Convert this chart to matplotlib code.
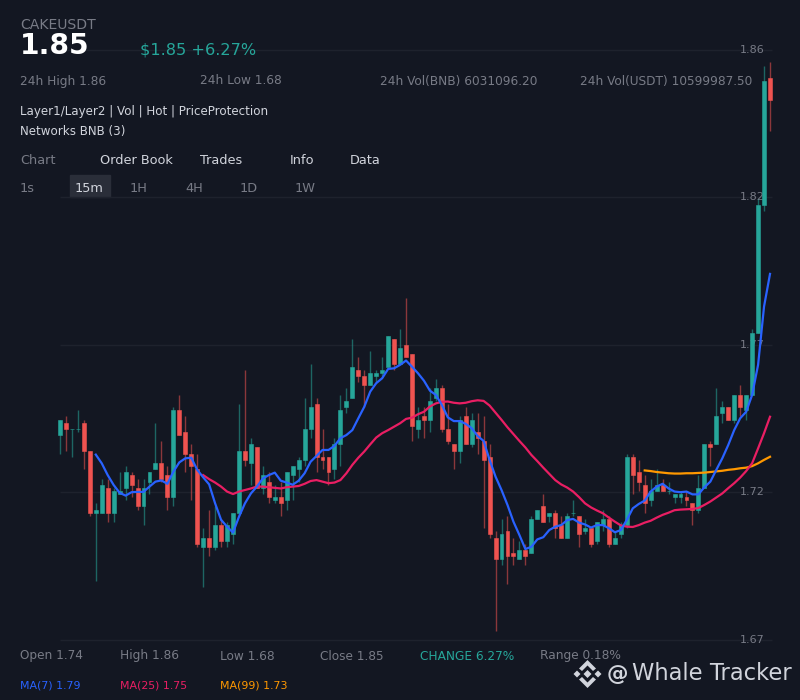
import matplotlib
matplotlib.use('Agg')
import matplotlib.pyplot as plt
from matplotlib.patches import Polygon, Rectangle

# candles (15m, tick 0.001)
opens = [1.736,1.740,1.738,1.738,1.740,1.731,1.711,1.711,1.719,1.711,
         1.717,1.719,1.723,1.719,1.713,1.721,1.725,1.727,1.723,1.716,
         1.744,1.737,1.730,1.725,1.700,1.703,1.700,1.707,1.702,1.704,
         1.711,1.731,1.727,1.732,1.719,1.721,1.715,1.716,1.715,1.723,
         1.725,1.728,1.738,1.746,1.729,1.729,1.725,1.733,1.745,1.748,
         1.757,1.755,1.752,1.755,1.756,1.758,1.767,1.759,1.765,1.762,
         1.738,1.742,1.741,1.748,1.751,1.738,1.733,1.731,1.742,1.733,
         1.737,1.734,1.729,1.703,1.696,1.705,1.698,1.696,1.699,1.698,
         1.709,1.713,1.710,1.711,1.707,1.703,1.711,1.710,1.705,1.706,
         1.702,1.707,1.709,1.701,1.704,1.707,1.729,1.724,1.720,1.715,
         1.718,1.720,1.718,1.716,1.716,1.716,1.714,1.712,1.719,1.733,
         1.733,1.743,1.745,1.741,1.749,1.744,1.749,1.769,1.810,1.851]
highs = [1.741,1.742,1.738,1.744,1.741,1.731,1.714,1.722,1.722,1.719,
         1.724,1.726,1.724,1.722,1.722,1.724,1.740,1.734,1.726,1.745,
         1.749,1.742,1.733,1.730,1.706,1.712,1.713,1.709,1.708,1.711,
         1.746,1.757,1.735,1.732,1.726,1.724,1.720,1.721,1.724,1.726,
         1.729,1.748,1.759,1.748,1.738,1.729,1.735,1.749,1.751,1.767,
         1.761,1.757,1.763,1.757,1.761,1.768,1.767,1.770,1.780,1.762,
         1.745,1.745,1.751,1.754,1.752,1.746,1.733,1.742,1.745,1.743,
         1.743,1.742,1.733,1.705,1.709,1.710,1.703,1.702,1.701,1.710,
         1.712,1.717,1.711,1.712,1.710,1.711,1.715,1.710,1.709,1.706,
         1.708,1.712,1.710,1.705,1.708,1.730,1.730,1.728,1.723,1.722,
         1.725,1.722,1.721,1.717,1.718,1.718,1.714,1.723,1.733,1.734,
         1.751,1.747,1.745,1.749,1.752,1.749,1.770,1.812,1.855,1.856]
lows = [1.730,1.731,1.729,1.737,1.725,1.710,1.689,1.711,1.708,1.708,
        1.717,1.715,1.716,1.712,1.707,1.717,1.725,1.721,1.712,1.713,
        1.736,1.724,1.715,1.700,1.687,1.697,1.699,1.700,1.700,1.701,
        1.710,1.726,1.720,1.719,1.717,1.714,1.714,1.710,1.712,1.715,
        1.721,1.726,1.735,1.724,1.725,1.720,1.722,1.726,1.743,1.748,
        1.753,1.745,1.752,1.753,1.755,1.758,1.757,1.759,1.761,1.734,
        1.735,1.735,1.737,1.747,1.737,1.733,1.725,1.727,1.733,1.732,
        1.730,1.706,1.703,1.673,1.694,1.688,1.694,1.696,1.694,1.698,
        1.709,1.708,1.708,1.703,1.703,1.703,1.710,1.700,1.704,1.700,
        1.701,1.705,1.700,1.701,1.703,1.706,1.717,1.718,1.711,1.713,
        1.718,1.718,1.717,1.714,1.714,1.713,1.707,1.711,1.719,1.726,
        1.733,1.740,1.741,1.740,1.742,1.741,1.749,1.769,1.808,1.834]
closes = [1.741,1.738,1.738,1.738,1.731,1.711,1.712,1.720,1.711,1.718,
          1.718,1.724,1.720,1.713,1.719,1.724,1.727,1.722,1.716,1.744,
          1.736,1.730,1.726,1.701,1.703,1.700,1.707,1.702,1.707,1.711,
          1.731,1.728,1.733,1.719,1.723,1.716,1.716,1.714,1.724,1.726,
          1.728,1.738,1.745,1.729,1.728,1.724,1.733,1.744,1.747,1.758,
          1.755,1.752,1.756,1.756,1.757,1.768,1.759,1.764,1.761,1.739,
          1.741,1.741,1.747,1.751,1.738,1.734,1.731,1.741,1.733,1.741,
          1.735,1.728,1.704,1.696,1.704,1.697,1.697,1.699,1.697,1.709,
          1.712,1.708,1.711,1.706,1.703,1.710,1.711,1.704,1.706,1.701,
          1.708,1.709,1.701,1.703,1.707,1.729,1.723,1.721,1.714,1.718,
          1.720,1.718,1.718,1.717,1.717,1.715,1.712,1.719,1.733,1.732,
          1.742,1.745,1.741,1.749,1.745,1.749,1.769,1.810,1.850,1.844]

# moving averages, first value sits at the given candle index
ma7_start = 6
ma7 = [1.7297,1.7269,1.7231,1.7199,1.7174,1.7165,1.7176,1.7177,1.7177,1.7194,
       1.7210,1.7214,1.7203,1.7242,1.7272,1.7285,1.7287,1.7248,1.7224,1.7201,
       1.7140,1.7087,1.7065,1.7046,1.7097,1.7140,1.7172,1.7194,1.7220,1.7231,
       1.7239,1.7213,1.7207,1.7200,1.7213,1.7237,1.7274,1.7293,1.7312,1.7312,
       1.7325,1.7350,1.7360,1.7376,1.7414,1.7451,1.7500,1.7527,1.7543,1.7573,
       1.7575,1.7586,1.7600,1.7580,1.7559,1.7535,1.7503,1.7489,1.7457,1.7417,
       1.7405,1.7405,1.7396,1.7382,1.7357,1.7341,1.7280,1.7226,1.7183,1.7135,
       1.7081,1.7038,1.6993,1.7000,1.7024,1.7031,1.7054,1.7065,1.7070,1.7086,
       1.7090,1.7078,1.7072,1.7062,1.7070,1.7070,1.7060,1.7047,1.7054,1.7087,
       1.7124,1.7138,1.7149,1.7178,1.7194,1.7203,1.7188,1.7178,1.7176,1.7178,
       1.7169,1.7169,1.7192,1.7210,1.7248,1.7285,1.7328,1.7376,1.7414,1.7435,
       1.7489,1.7586,1.7774,1.7879]
ma25_start = 24
ma25 = [1.7231,1.7218,1.7207,1.7194,1.7178,1.7170,1.7178,1.7183,1.7188,1.7194,
        1.7194,1.7192,1.7190,1.7188,1.7192,1.7194,1.7196,1.7203,1.7212,1.7215,
        1.7210,1.7205,1.7207,1.7215,1.7237,1.7264,1.7287,1.7307,1.7330,1.7352,
        1.7366,1.7376,1.7387,1.7398,1.7412,1.7416,1.7427,1.7435,1.7452,1.7462,
        1.7467,1.7468,1.7464,1.7462,1.7464,1.7469,1.7472,1.7470,1.7455,1.7432,
        1.7409,1.7385,1.7363,1.7341,1.7320,1.7296,1.7276,1.7255,1.7235,1.7215,
        1.7201,1.7191,1.7178,1.7160,1.7140,1.7127,1.7117,1.7108,1.7094,1.7081,
        1.7069,1.7065,1.7064,1.7070,1.7078,1.7084,1.7094,1.7103,1.7110,1.7118,
        1.7120,1.7121,1.7122,1.7125,1.7135,1.7146,1.7159,1.7172,1.7189,1.7205,
        1.7223,1.7244,1.7269,1.7317,1.7366,1.7419]
ma99_start = 98
ma99 = [1.7246,1.7244,1.7241,1.7239,1.7237,1.7236,1.7236,1.7237,1.7237,1.7238,
        1.7239,1.7241,1.7243,1.7245,1.7248,1.7250,1.7253,1.7255,1.7260,1.7269,
        1.7280,1.7290]

price_ticks = [1.67, 1.7175, 1.765, 1.8125, 1.86]
price_labels = ['1.67', '1.72', '1.77', '1.82', '1.86']

stats_top = ['24h High 1.86', '24h Low 1.68', '24h Vol(BNB) 6031096.20', '24h Vol(USDT) 10599987.50']
stats_top_x = [20, 200, 380, 580]
tabs = ['Chart', 'Order Book', 'Trades', 'Info', 'Data']
tabs_x = [20, 100, 200, 290, 350]
intervals = ['1s', '15m', '1H', '4H', '1D', '1W']
intervals_x = [20, 75, 130, 185, 240, 295]
footer = ['Open 1.74', 'High 1.86', 'Low 1.68', 'Close 1.85', 'CHANGE 6.27%', 'Range 0.18%']
footer_x = [20, 120, 220, 320, 420, 540]

BG = '#131722'
GREEN = '#26a69a'
RED = '#ef5350'
GREY = '#787b86'
LIGHT = '#d1d4dc'

W, H = 800, 700
fig = plt.figure(figsize=(8, 7), dpi=100, facecolor=BG)


def label(x, y, s, color=GREY, size=9, **kw):
    # x, y in picture pixels, y going down
    return fig.text(x / W, 1 - y / H, s, color=color, fontsize=size, va='center', **kw)


ax = fig.add_axes([57 / W, 1 - 640 / H, 716 / W, 590 / H])
ax.set_facecolor('none')
ax.set_xlim(-0.5, 119.5)
ax.set_ylim(1.67, 1.86)
ax.axis('off')

ax.hlines(price_ticks, -0.05, 119.3, color='#1e222d', lw=1, zorder=1, clip_on=False)
for t, s in zip(price_ticks, price_labels):
    ax.text(113.95, t, s, color=GREY, fontsize=8, va='center', zorder=2, clip_on=False)

xs = list(range(len(opens)))
colors = [GREEN if c >= o else RED for o, c in zip(opens, closes)]
ax.vlines(xs, lows, highs, colors=colors, lw=1, alpha=0.55, zorder=3, clip_on=False)
ax.bar(xs, [abs(c - o) for o, c in zip(opens, closes)], bottom=[min(o, c) for o, c in zip(opens, closes)],
       width=0.66, color=colors, edgecolor=colors, lw=0.4, zorder=4)

ax.plot(range(ma99_start, ma99_start + len(ma99)), ma99, color='#ff9800', lw=1.6, zorder=5)
ax.plot(range(ma25_start, ma25_start + len(ma25)), ma25, color='#e91e63', lw=1.6, zorder=6)
ax.plot(range(ma7_start, ma7_start + len(ma7)), ma7, color='#2962ff', lw=1.6, zorder=7)

# header
label(20, 25, 'CAKEUSDT', size=10.1)
label(20, 46, '1.85', color='white', size=20.3, fontweight='bold')
label(140, 50, '$1.85 +6.27%', color=GREEN, size=11.6)
for x, s in zip(stats_top_x, stats_top):
    label(x, 81, s, size=8.7)
label(20, 111, 'Layer1/Layer2 | Vol | Hot | PriceProtection', color=LIGHT, size=8.6)
label(20, 131, 'Networks BNB (3)', color=LIGHT, size=8.6)
for i, (x, s) in enumerate(zip(tabs_x, tabs)):
    label(x, 161, s, color=GREY if i == 0 else LIGHT, size=9.3)

fig.add_artist(Rectangle((70 / W, 1 - 197 / H), 40 / W, 22 / H, color='#2a2e39', transform=fig.transFigure, zorder=0))
for x, s in zip(intervals_x, intervals):
    label(x, 189, s, color=LIGHT if s == '15m' else GREY, size=9.3)

# footer
for x, s in zip(footer_x, footer):
    label(x, 656, s, color=GREEN if s.startswith('CHANGE') else GREY, size=8.7)
label(20, 686, 'MA(7) 1.79', color='#2962ff', size=7.9)
label(120, 686, 'MA(25) 1.75', color='#e91e63', size=7.9)
label(220, 686, 'MA(99) 1.73', color='#ff9800', size=7.9)

# watermark logo
cx, cy = 587.5, 674
shapes = [
    [(0, -4), (4, 0), (0, 4), (-4, 0)],
    [(-10.5, -3.5), (-7, 0), (-10.5, 3.5), (-14, 0)],
    [(10.5, -3.5), (14, 0), (10.5, 3.5), (7, 0)],
    [(0, -14), (8.5, -5.5), (5.5, -3), (0, -8.5), (-5.5, -3), (-8.5, -5.5)],
    [(0, 14), (8.5, 5.5), (5.5, 3), (0, 8.5), (-5.5, 3), (-8.5, 5.5)],
]
for pts in shapes:
    fig.add_artist(Polygon([((cx + a) / W, 1 - (cy + b) / H) for a, b in pts], closed=True,
                           color=LIGHT, lw=0, transform=fig.transFigure))
label(607, 674, '@', color=LIGHT, size=15.5, fontweight='bold')
label(632, 674, 'Whale Tracker', color=LIGHT, size=16.3)

fig.savefig('out.png', dpi=100, facecolor=BG)
